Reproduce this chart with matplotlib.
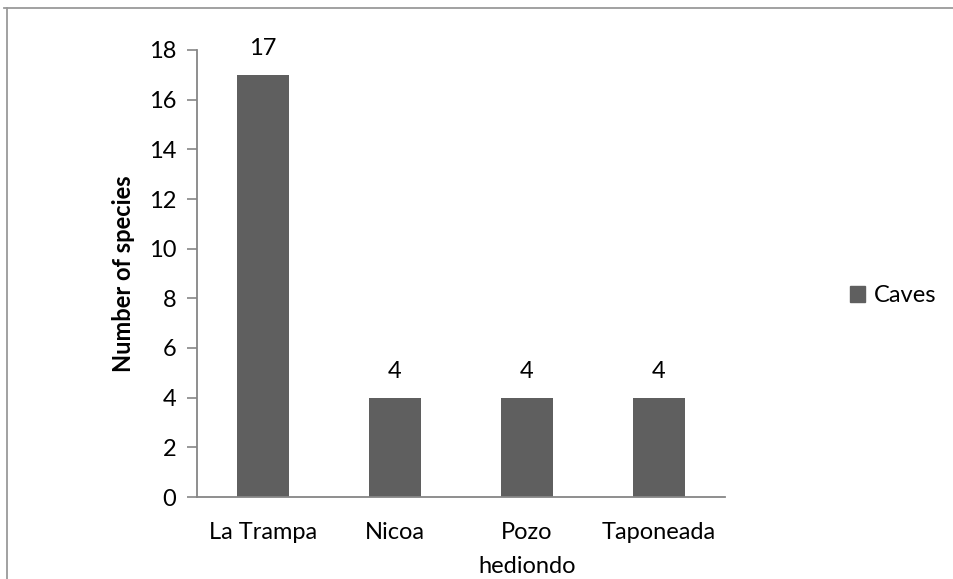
import matplotlib
matplotlib.use("Agg")
import matplotlib.pyplot as plt
from matplotlib.patches import Rectangle
from matplotlib.lines import Line2D

categories = ["La Trampa", "Nicoa", "Pozo\nhediondo", "Taponeada"]
values = [17, 4, 4, 4]
yticks = [0, 2, 4, 6, 8, 10, 12, 14, 16, 18]
series_name = "Caves"

plt.rcParams['font.family'] = ['Lato', 'DejaVu Sans']
FS = 17
W, H = 954, 579
fig = plt.figure(figsize=(W/100, H/100), dpi=100)
ax = fig.add_axes([197/W, 1-497/H, (725-197)/W, (497-50)/H])

x = list(range(len(categories)))
ax.bar(x, values, width=0.4, color="#5f5f5f", label=series_name, zorder=2)
for xi, v in zip(x, values):
    ax.annotate(str(v), (xi, v), xytext=(0, 19), textcoords="offset points",
                ha="center", va="center", fontsize=FS, color="black")

ax.set_xlim(-0.5, len(categories) - 0.5)
ax.set_ylim(0, 18)
ax.set_yticks(yticks)
ax.set_xticks(x)
ax.set_xticklabels(categories, fontsize=FS, linespacing=1.75)
ax.tick_params(axis='x', length=0, pad=18)
ax.tick_params(axis='y', length=7, width=1.2, color="#868686", labelsize=FS, pad=8, direction='out')
for s in ["top", "right"]:
    ax.spines[s].set_visible(False)
for s in ["left", "bottom"]:
    ax.spines[s].set_color("#868686")
    ax.spines[s].set_linewidth(1.3)
ax.set_ylabel("Number of species", fontsize=FS, fontweight="bold", labelpad=10)

handles = [Rectangle((0, 0), 1, 1, color="#5f5f5f")]
fig.legend(handles, [series_name], loc="center left", bbox_to_anchor=(850/W, 1-296/H),
           frameon=False, fontsize=FS, handlelength=0.65, handleheight=0.65, handletextpad=0.35,
           borderpad=0, borderaxespad=0)

# chart-area frame (partially cropped)
fig.add_artist(Line2D([4/W, 1], [1-8/H, 1-8/H], transform=fig.transFigure, color="#9a9a9a", lw=1.3))
fig.add_artist(Line2D([7/W, 7/W], [0, 1-8/H], transform=fig.transFigure, color="#9a9a9a", lw=1.3))

fig.savefig("out.png", dpi=100)
